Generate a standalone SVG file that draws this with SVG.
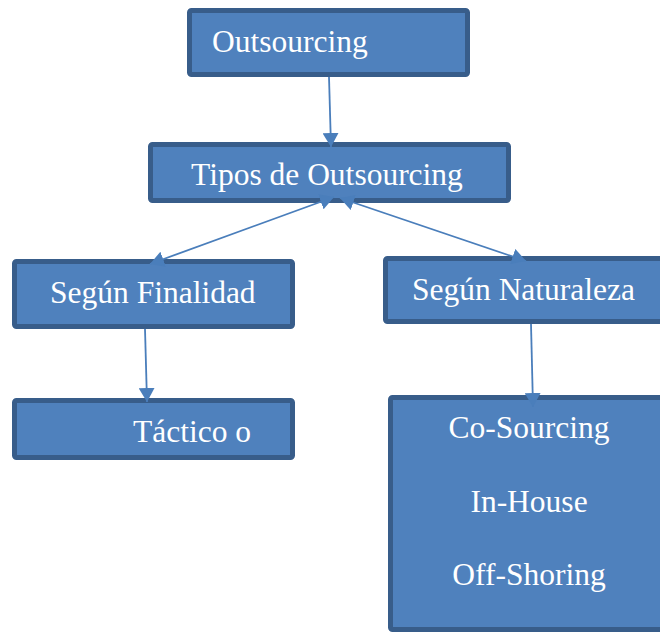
<svg xmlns="http://www.w3.org/2000/svg" width="660" height="632" viewBox="0 0 660 632">
<style>
.box{fill:#4F81BD;stroke:#385D8A;stroke-width:5}
.t{font-family:'Liberation Serif','Times New Roman',serif;font-size:31.5px;fill:#FFFFFF}
.c{stroke:#4A7EBB;stroke-width:1.8;fill:none}
</style>
<defs>
<marker id="ah" markerUnits="userSpaceOnUse" viewBox="0 0 14 16" markerWidth="14" markerHeight="16" refX="14" refY="8" orient="auto-start-reverse">
<path d="M0,0 L14,8 L0,16 z" fill="#4A7EBB"/>
</marker>
</defs>
<rect width="660" height="632" fill="#FFFFFF"/>
<g id="outsourcing">
<rect class="box" x="189.5" y="10.5" width="278" height="64" rx="2"/>
<text class="t" x="212" y="52">Outsourcing</text>
</g>
<g id="tipos">
<rect class="box" x="150.5" y="144.5" width="358" height="56" rx="2"/>
<text class="t" x="191" y="185">Tipos de Outsourcing</text>
</g>
<g id="finalidad">
<rect class="box" x="14.5" y="261.5" width="278" height="65" rx="2"/>
<text class="t" x="50" y="303">Según Finalidad</text>
</g>
<g id="tactico">
<rect class="box" x="14.5" y="400.5" width="278" height="57" rx="2"/>
<text class="t" x="133" y="442">Táctico o</text>
</g>
<g id="naturaleza">
<rect class="box" x="385.5" y="258.5" width="285" height="63" rx="2"/>
<text class="t" x="412" y="300">Según Naturaleza</text>
</g>
<g id="tipos-naturaleza">
<rect class="box" x="390.5" y="397.5" width="285" height="232" rx="2"/>
<text class="t" x="529" y="438" text-anchor="middle">Co-Sourcing</text>
<text class="t" x="529" y="512" text-anchor="middle">In-House</text>
<text class="t" x="529" y="585" text-anchor="middle">Off-Shoring</text>
</g>
<g id="connectors">
<line class="c" x1="329" y1="77" x2="331" y2="147" marker-end="url(#ah)"/>
<line class="c" x1="334" y1="197" x2="150" y2="264" marker-start="url(#ah)" marker-end="url(#ah)"/>
<line class="c" x1="340" y1="198" x2="526" y2="261" marker-start="url(#ah)" marker-end="url(#ah)"/>
<line class="c" x1="145" y1="329" x2="147" y2="402" marker-end="url(#ah)"/>
<line class="c" x1="531" y1="324" x2="533" y2="407" marker-end="url(#ah)"/>
</g>
</svg>
